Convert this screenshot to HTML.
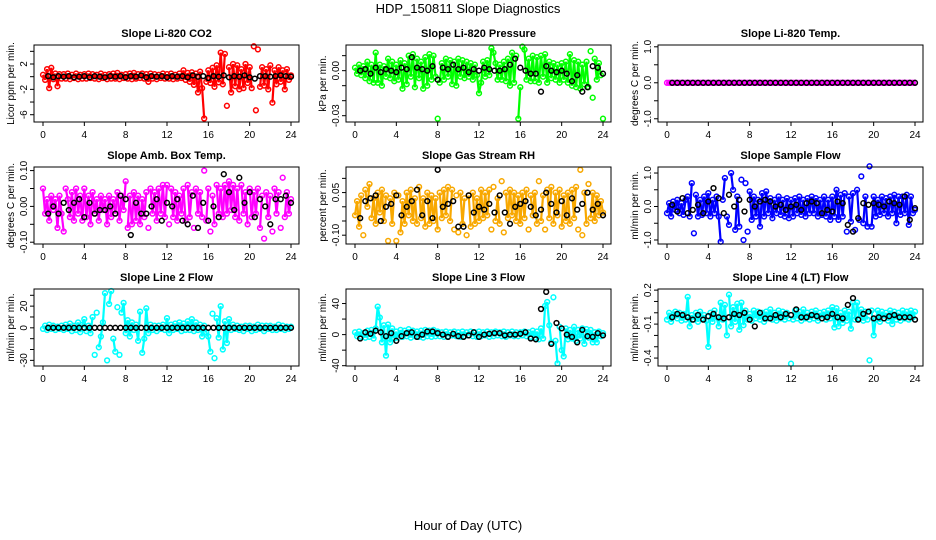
<!DOCTYPE html>
<html><head><meta charset="utf-8"><style>
html,body{margin:0;padding:0;background:#fff;}
svg{display:block;font-family:"Liberation Sans",sans-serif;}
</style></head><body>
<svg id="chart" width="936" height="540" viewBox="0 0 936 540" xmlns="http://www.w3.org/2000/svg">
<text x="468" y="13" font-size="13" text-anchor="middle">HDP_150811  Slope Diagnostics</text>
<text x="468" y="530" font-size="13" text-anchor="middle">Hour of Day (UTC)</text>
</svg>
<script>
const hours=[0,0.2,0.4,0.6,0.8,1,1.2,1.4,1.6,1.8,2,2.2,2.4,2.6,2.8,3,3.2,3.4,3.6,3.8,4,4.2,4.4,4.6,4.8,5,5.2,5.4,5.6,5.8,6,6.2,6.4,6.6,6.8,7,7.2,7.4,7.6,7.8,8,8.2,8.4,8.6,8.8,9,9.2,9.4,9.6,9.8,10,10.2,10.4,10.6,10.8,11,11.2,11.4,11.6,11.8,12,12.2,12.4,12.6,12.8,13,13.2,13.4,13.6,13.8,14,14.2,14.4,14.6,14.8,15,15.2,15.4,15.6,15.8,16,16.2,16.4,16.6,16.8,17,17.2,17.4,17.6,17.8,18,18.2,18.4,18.6,18.8,19,19.2,19.4,19.6,19.8,20,20.2,20.4,20.6,20.8,21,21.2,21.4,21.6,21.8,22,22.2,22.4,22.6,22.8,23,23.2,23.4,23.6,23.8,24];
const blackHours=[0.5,1,1.5,2,2.5,3,3.5,4,4.5,5,5.5,6,6.5,7,7.5,8,8.5,9,9.5,10,10.5,11,11.5,12,12.5,13,13.5,14,14.5,15,15.5,16,16.5,17,17.5,18,18.5,19,19.5,20,20.5,21,21.5,22,22.5,23,23.5,24];
const xTicks=[0,4,8,12,16,20,24];

const co2Vals=[0.3,-0.5,1.2,-1.8,1.4,-0.4,0.5,-1.5,0.4,-0.3, 0.4,-0.3,0.5,-0.4,0.3,-0.2,0.5,-0.4,0.3,-0.3, 0.4,-0.3,0.5,-0.2,0.4,-0.3,0.3,-0.4,0.5,-0.2, 0.3,-0.4,0.4,-0.3,0.5,-0.3,0.6,-0.4,0.3,-0.2, 0.4,-0.3,0.5,-0.4,0.6,-0.3,0.4,-0.2,0.5,-0.3, 0.4,-0.8,0.5,-0.3,0.4,-0.4,0.3,-0.2,0.5,-0.3, 0.4,-0.3,0.5,-0.4,0.3,-0.3,0.5,-0.2,1.0,-0.5, 0.6,-0.8,0.7,-1.3,0.5,-2.5,0.8,-1.8,-6.6,-0.8, 1.0,-1.0,1.4,-1.6,1.8,-0.9,3.8,-1.2,3.6,-4.6, 1.5,-2.5,2.0,-1.5,1.8,-2.0,1.2,-1.8,2.0,-1.0, 1.5,-1.8,4.8,-5.3,4.3,-1.6,1.5,-1.4,1.2,-2.0, 1.8,-4.1,1.0,-1.2,1.5,-0.8,1.0,-2.0,1.2,-0.5, 0.2];
const co2Black=[0.1,-0.1,0.1,0,0.1,-0.1,0,0.1,-0.1,0.1,0,-0.1,0.1,0,0.1,-0.1,0.1,0,0.2,-0.1,0.1,0,0.1,-0.1,0.1,0,0.1,-0.1,0.2,0,0.1,-0.2,0.1,0,0.2,-0.1,0.1,0,0.2,-0.1,-0.3,0.1,0.1,0,0.1,0.2,0.1,0];
const co2Ticks=[4,2,0,-2,-4,-6];
const co2Labels=["","2","","-2","","-6"];

const presVals=[0.002,-0.002,0.004,-0.003,0.003,-0.005,0.006,-0.007,0.004,-0.008, 0.012,-0.008,0.004,-0.010,0.003,-0.004,0.008,-0.005,0.006,-0.007, 0.004,-0.006,0.007,-0.012,0.005,-0.009,0.010,-0.004,0.011,-0.011, 0.008,-0.005,0.006,-0.012,0.009,-0.010,0.011,-0.006,0.010,-0.004, -0.032,-0.008,0.005,-0.006,0.008,-0.004,0.007,-0.009,0.006,-0.010, 0.008,-0.004,0.007,-0.005,0.006,-0.004,0.005,-0.006,0.004,-0.003, -0.015,-0.008,0.006,-0.004,0.007,-0.003,0.015,0.012,0.005,-0.006, 0.004,-0.006,0.006,-0.007,0.008,-0.010,0.012,-0.008,0.010,-0.032, -0.011,0.016,0.014,-0.006,0.008,-0.007,0.010,-0.007,0.009,-0.008, 0.010,-0.004,0.011,-0.008,0.006,-0.005,0.005,-0.006,0.004,-0.008, 0.005,-0.006,0.006,-0.008,0.011,-0.010,0.007,-0.011,0.006,-0.012, 0.004,-0.009,0.006,-0.011,0.013,-0.018,0.008,-0.006,0.005,-0.003, -0.032];
const presBlack=[0,0.001,-0.002,0.002,-0.001,0.001,0,-0.001,0.002,0.001,0.009,0.002,0.001,0,0.003,-0.006,0.002,0.001,0.004,0.001,0.002,-0.001,0.001,0,0.002,0.001,0,0,0.001,0.004,0.008,0.002,0,-0.002,-0.002,-0.014,0.003,0,-0.001,0,-0.002,-0.007,-0.003,-0.014,-0.011,0.003,0.002,-0.002];
const presTicks=[0.01,0,-0.01,-0.02,-0.03];
const presLabels=["","0.00","","","-0.03"];

const tempVals=[0,0,0,0,0,0,0,0,0,0, 0,0,0,0,0,0,0,0,0,0, 0,0,0,0,0,0,0,0,0,0, 0,0,0,0,0,0,0,0,0,0, 0,0,0,0,0,0,0,0,0,0, 0,0,0,0,0,0,0,0,0,0, 0,0,0,0,0,0,0,0,0,0, 0,0,0,0,0,0,0,0,0,0, 0,0,0,0,0,0,0,0,0,0, 0,0,0,0,0,0,0,0,0,0, 0,0,0,0,0,0,0,0,0,0, 0,0,0,0,0,0,0,0,0,0, 0];
const tempBlack=[0,0,0,0,0,0,0,0,0,0,0,0,0,0,0,0,0,0,0,0,0,0,0,0,0,0,0,0,0,0,0,0,0,0,0,0,0,0,0,0,0,0,0,0,0,0,0,0];
const tempTicks=[1,0.5,0,-0.5,-1];
const tempLabels=["1.0","","0.0","","-1.0"];

const ambVals=[0.05,-0.02,0.02,-0.04,0.03,-0.01,0.02,-0.06,0.03,-0.02, -0.07,0.05,0.02,-0.03,0.04,-0.04,0.05,-0.02,0.03,-0.04, 0.05,-0.03,0.03,-0.05,0.04,-0.02,0.02,-0.04,0.03,-0.01, 0.02,-0.05,0.03,-0.03,0.02,-0.02,0.04,-0.04,0.03,-0.01, 0.07,-0.06,0.03,-0.05,0.04,-0.04,0.03,-0.05,0.02,-0.03, 0.04,-0.06,0.05,-0.02,0.04,-0.04,0.05,-0.02,0.06,-0.03, 0.06,-0.05,0.05,-0.03,0.04,-0.04,0.03,-0.02,0.05,-0.04, 0.06,-0.03,0.04,-0.06,0.05,-0.02,0.04,-0.03,0.10,-0.04, 0.05,-0.07,0.03,-0.05,0.06,-0.02,0.05,-0.03,0.06,-0.02, 0.07,-0.01,0.06,-0.03,0.05,-0.04,0.06,-0.02,0.04,-0.05, 0.05,-0.03,0.04,-0.02,0.05,-0.06,0.03,-0.09,0.04,-0.03, 0.03,-0.07,0.05,-0.02,0.04,-0.06,0.08,-0.03,0.04,-0.02, 0.02];
const ambBlack=[-0.02,0,-0.02,0.01,-0.01,0.01,0.02,-0.03,0.01,-0.02,-0.01,-0.01,0,-0.02,0.03,0.02,-0.08,0.01,-0.02,-0.02,0,0.02,-0.04,0.01,0,0.02,-0.04,-0.05,0.03,-0.06,0.01,-0.04,0,-0.03,0.09,0.04,-0.01,0.08,0.01,0.04,-0.03,0.02,0,-0.05,0.02,0.02,0.03,0.01];
const ambTicks=[0.1,0.05,0,-0.05,-0.1];
const ambLabels=["0.10","","0.00","","-0.10"];

const rhVals=[-0.03,0.02,-0.07,0.04,-0.10,0.06,0.00,0.08,-0.04,0.03, -0.06,0.05,-0.02,0.06,-0.05,0.04,-0.12,0.03,-0.06,0.05, -0.12,0.04,-0.09,0.02,-0.06,0.05,-0.03,0.06,-0.05,0.03, -0.06,0.07,-0.04,0.03,-0.07,0.05,-0.06,0.04,-0.05,0.03, -0.08,0.05,-0.04,0.06,-0.03,0.07,-0.05,0.06,-0.08,0.04, -0.09,0.05,-0.06,0.03,-0.10,0.04,-0.07,0.05,-0.06,0.03, -0.05,0.06,-0.04,0.05,-0.03,0.06,-0.08,0.07,-0.05,0.03, -0.06,0.09,-0.09,0.05,-0.04,0.06,-0.03,0.05,-0.05,0.04, -0.06,0.05,-0.04,0.06,-0.08,0.04,-0.03,0.05,-0.06,0.09, -0.05,0.04,-0.08,0.06,-0.04,0.07,-0.06,0.05,-0.03,0.06, -0.07,0.04,-0.05,0.05,-0.06,0.06,-0.04,0.07,-0.08,0.13, -0.10,0.05,-0.06,0.08,-0.04,0.05,-0.05,0.04,-0.03,0.02, -0.02];
const rhBlack=[-0.04,0.02,0.03,0.04,-0.05,0,0.01,0.04,-0.03,0,0.02,0.06,-0.03,0.02,-0.04,0.13,0,0.01,0.02,-0.07,-0.07,0.04,-0.02,0,-0.01,0.01,-0.02,0.04,-0.02,-0.06,0,0.01,0.02,0,-0.03,-0.01,0.05,0.01,-0.02,0.02,-0.03,0.03,-0.01,0.01,0.05,-0.01,0.01,-0.03];
const rhTicks=[0.1,0.05,0,-0.05,-0.1];
const rhLabels=["","0.05","","","-0.10"];

const sampVals=[-0.2,0.1,-0.3,0.15,-0.1,0.2,-0.2,0.1,-0.25,0.2, 0.3,-0.3,0.7,-0.8,0.35,-0.3,0.2,-0.25,0.3,-0.2, 0.4,-0.3,0.2,-0.2,0.3,-0.3,-1.05,0.2,0.85,-0.3, -0.55,1.0,0.5,-0.7,0.3,-0.6,0.8,-1.0,0.7,-0.75, 0.45,-0.4,0.3,-0.3,0.2,-0.6,0.4,-0.3,0.45,-0.2, 0.25,-0.35,0.2,-0.2,0.3,-0.25,0.2,-0.3,0.25,-0.35, 0.2,-0.3,0.25,-0.2,0.3,-0.25,0.2,-0.3,0.25,-0.2, 0.3,-0.2,0.25,-0.3,0.2,-0.25,0.3,-0.3,0.2,-0.4, 0.3,-0.3,0.5,-0.4,0.35,-0.3,0.4,-0.75,0.3,-0.45, 0.4,-0.7,0.5,-0.4,0.9,-0.5,0.3,-0.6,1.2,-0.6, 0.3,-0.3,0.2,-0.25,0.3,-0.2,0.25,-0.3,0.3,-0.2, 0.35,-0.5,0.3,-0.25,0.3,-0.2,0.35,-0.55,0.3,-0.2, -0.1];
const sampBlack=[0.05,-0.15,0.25,-0.2,-0.1,0.05,-0.2,0.15,0.55,0.25,-0.2,0.35,0.0,0.2,-0.15,0.2,0.0,0.15,0.2,0.15,0.0,0.05,-0.1,0.0,0.05,-0.1,0.1,0.15,0.1,-0.2,-0.1,-0.15,0.15,0.1,-0.55,-0.75,-0.35,0.1,0.05,0.1,0.05,0.0,0.15,0.1,0.05,0.3,-0.4,-0.05];
const sampTicks=[1,0.5,0,-0.5,-1];
const sampLabels=["1.0","","0.0","","-1.0"];

const l2Vals=[-1,2,-2,3,-1,2,-2,1,-1,2, -2,3,-1,4,-3,2,-2,5,-4,3, 8,-3,2,-5,10,-25,14,-18,-8,5, 32,-30,22,34,-10,-22,19,-25,14,23, -5,7,-8,5,-2,3,-12,15,-23,-10, 18,-5,3,-2,2,-3,2,-1,3,-2, 9,-5,3,-2,4,-1,5,-3,4,-2, 6,-2,8,-3,5,-2,3,-8,2,-4, -8,-22,13,-28,9,-9,20,-20,6,-14, 8,-2,3,-1,2,-2,1,-3,2,-1, 2,-3,1,-2,3,-1,2,-3,2,-1, 2,-2,1,-2,3,-1,2,-2,1,-1, 1];
const l2Black=[0,0,0,0,0,0,0,0,0,0,0,0,0,0,0,0,0,0,0,0,0,0,0,0,0,0,0,0,0,0,0,0,0,0,0,0,0,0,0,0,0,0,0,0,0,0,0,0];
const l2Ticks=[30,20,10,0,-10,-20,-30];
const l2Labels=["","20","","0","","","-30"];

const l3Vals=[3,-2,4,-3,2,-4,5,-3,6,-5, 8,36,22,-10,12,-27,13,-10,8,-5, 4,-4,6,-3,5,-2,7,-4,5,-2, 4,-3,5,-4,6,-2,5,-3,6,-2, 4,-2,3,-3,4,-2,3,-1,4,-2, 3,-3,4,-2,3,-1,4,-2,3,-3, 4,-2,3,-1,4,-3,3,-2,4,-1, 3,-2,4,-3,3,-1,4,-2,3,-2, 3,-1,4,-2,3,-3,5,-4,4,-6, 8,-5,37,42,12,-10,48,-8,-37,10, -20,-28,8,-6,6,-5,10,-8,6,-5, 8,-12,7,-4,6,-10,3,-10,4,-2, 2];
const l3Black=[-5,3,1,5,3,-2,2,-8,-2,2,3,-3,0,4,4,2,0,-3,1,-2,-3,-1,3,-3,0,1,2,2,-1,0,0,1,3,-5,-6,33,55,-12,15,8,0,-3,-10,6,-2,-3,2,-1];
const l3Ticks=[40,20,0,-20,-40];
const l3Labels=["40","","0","","-40"];

const l4Vals=[-0.06,0.0,-0.08,-0.02,0.01,-0.05,0.0,-0.07,-0.01,-0.06, 0.14,-0.12,-0.02,-0.06,0.0,-0.08,0.01,-0.05,-0.02,-0.07, -0.3,0.0,-0.08,0.02,-0.04,-0.12,0.09,-0.06,0.07,-0.2, 0.16,-0.12,0.05,-0.08,0.08,-0.15,0.09,-0.11,0.02,-0.06, -0.01,-0.07,0.02,-0.05,0.01,-0.06,0.0,-0.08,0.01,-0.05, 0.03,-0.06,0.0,-0.07,0.02,-0.05,0.01,-0.06,0.0,-0.05, -0.45,-0.06,0.02,-0.05,0.01,-0.07,0.03,-0.05,0.0,-0.06, 0.01,-0.05,0.02,-0.07,0.0,-0.05,0.01,-0.06,0.02,-0.05, 0.05,-0.13,0.04,-0.12,0.0,-0.09,0.02,-0.07,0.01,-0.14, 0.09,-0.06,0.09,-0.05,0.03,-0.07,0.01,-0.06,-0.42,0.02, -0.2,-0.06,0.02,-0.08,0.01,-0.05,0.0,-0.07,0.02,-0.1, 0.01,-0.06,0.0,-0.07,0.02,-0.05,0.01,-0.06,0.02,-0.04, 0.01];
const l4Black=[-0.04,-0.01,-0.02,-0.04,-0.06,-0.02,-0.06,-0.03,-0.01,-0.04,-0.05,-0.04,-0.01,-0.02,0.0,-0.06,-0.12,0.0,-0.05,-0.05,-0.02,-0.04,-0.01,-0.02,0.03,-0.04,-0.04,-0.02,-0.03,-0.05,-0.04,-0.01,-0.04,-0.05,0.07,0.13,-0.06,-0.01,0.01,-0.05,-0.04,-0.05,-0.03,-0.02,-0.04,-0.04,-0.04,-0.06];
const l4Ticks=[0.2,0.1,0,-0.1,-0.2,-0.3,-0.4];
const l4Labels=["0.2","","","-0.1","","","-0.4"];

const NS="http://www.w3.org/2000/svg";
const svg=document.getElementById('chart');
const colLeft=[34,346,658], rowTop=[45,167,289], boxW=265, boxH=77;
const panels=[
 {key:'co2',title:'Slope Li-820 CO2',ylab:'Licor ppm per min.',vals:co2Vals,blk:co2Black,ticks:co2Ticks,labels:co2Labels,ymin:-7.15,ymax:5.0,color:'#ff0000'},
 {key:'pressure',title:'Slope Li-820 Pressure',ylab:'kPa per min.',vals:presVals,blk:presBlack,ticks:presTicks,labels:presLabels,ymin:-0.0342,ymax:0.0171,color:'#00ff00'},
 {key:'temp',title:'Slope Li-820 Temp.',ylab:'degrees C per min.',vals:tempVals,blk:tempBlack,ticks:tempTicks,labels:tempLabels,ymin:-1.09,ymax:1.05,color:'#ff00ff'},
 {key:'amb-temp',title:'Slope Amb. Box Temp.',ylab:'degrees C per min.',vals:ambVals,blk:ambBlack,ticks:ambTicks,labels:ambLabels,ymin:-0.105,ymax:0.11,color:'#ff00ff'},
 {key:'rh',title:'Slope Gas Stream RH',ylab:'percent per min.',vals:rhVals,blk:rhBlack,ticks:rhTicks,labels:rhLabels,ymin:-0.131,ymax:0.14,color:'#f8a800'},
 {key:'sample-flow',title:'Slope Sample Flow',ylab:'ml/min per min.',vals:sampVals,blk:sampBlack,ticks:sampTicks,labels:sampLabels,ymin:-1.12,ymax:1.18,color:'#0000ff'},
 {key:'line2',title:'Slope Line 2 Flow',ylab:'ml/min per min.',vals:l2Vals,blk:l2Black,ticks:l2Ticks,labels:l2Labels,ymin:-35.2,ymax:35.8,color:'#00ffff'},
 {key:'line3',title:'Slope Line 3 Flow',ylab:'ml/min per min.',vals:l3Vals,blk:l3Black,ticks:l3Ticks,labels:l3Labels,ymin:-40.4,ymax:58.7,color:'#00ffff'},
 {key:'line4',title:'Slope Line 4 (LT) Flow',ylab:'ml/min per min.',vals:l4Vals,blk:l4Black,ticks:l4Ticks,labels:l4Labels,ymin:-0.47,ymax:0.21,color:'#00ffff'}
];
function mk(tag,attrs,parent){const e=document.createElementNS(NS,tag);for(const k in attrs)e.setAttribute(k,attrs[k]);(parent||svg).appendChild(e);return e;}
panels.forEach((p,i)=>{
 const L=colLeft[i%3], T=rowTop[Math.floor(i/3)], B=T+boxH;
 const xs=h=>L+9+h*(248/24);
 const ys=v=>T+(p.ymax-v)/(p.ymax-p.ymin)*boxH;
 const g=mk('g',{});
 
 
 const t=mk('text',{x:L+boxW/2,y:T-8,'font-size':'11','font-weight':'bold','text-anchor':'middle'},g);
 t.textContent=p.title;
 
 
 const yl=mk('text',{x:0,y:0,'font-size':'10','text-anchor':'middle',transform:`translate(${L-20},${T+boxH/2}) rotate(-90)`},g);
 yl.textContent=p.ylab;
 
 
 const band=mk('g',{stroke:p.color,'stroke-width':'2.2',fill:'none'},g);
 
 
 for(let j=1;j<p.vals.length;j++){
  const y1=ys(p.vals[j-1]), y2=ys(p.vals[j]);
  if(Math.abs(y2-y1)<34){mk('line',{x1:xs(hours[j-1]).toFixed(1),y1:y1.toFixed(1),x2:xs(hours[j]).toFixed(1),y2:y2.toFixed(1)},band);}
 }
 const cg=mk('g',{fill:'none',stroke:p.color,'stroke-width':'1.5'},g);
 
 
 p.vals.forEach((v,j)=>{const c=mk('circle',{cx:xs(hours[j]).toFixed(1),cy:ys(v).toFixed(1),r:'2.4'},cg);
  
  });
 const bg=mk('g',{fill:'none',stroke:'#000','stroke-width':'1.5'},g);
 
 
 p.blk.forEach((v,j)=>{const c=mk('circle',{cx:xs(blackHours[j]).toFixed(1),cy:ys(v).toFixed(1),r:'2.4'},bg);
  
  });
 const box=mk('rect',{x:L,y:T,width:boxW,height:boxH,fill:'none',stroke:'#000','stroke-width':'1'},g);
 
 
 const xa=mk('g',{},g);
 
 
 mk('line',{x1:xs(xTicks[0]),x2:xs(xTicks[xTicks.length-1]),y1:B,y2:B,stroke:'#000'},xa);
 xTicks.forEach(h=>{mk('line',{x1:xs(h),x2:xs(h),y1:B,y2:B+4,stroke:'#000'},xa);
  const tl=mk('text',{x:xs(h),y:B+16,'font-size':'10','text-anchor':'middle'},xa);tl.textContent=String(h);
  
  });
 const ya=mk('g',{},g);
 
 
 p.ticks.forEach((v,j)=>{const y=ys(v);mk('line',{x1:L-4,x2:L,y1:y,y2:y,stroke:'#000'},ya);
  if(p.labels[j]){const tl=mk('text',{x:0,y:0,'font-size':'10','text-anchor':'middle',transform:`translate(${L-7},${y}) rotate(-90)`},ya);tl.textContent=p.labels[j];
  
  }});
});
</script>
</body></html>
